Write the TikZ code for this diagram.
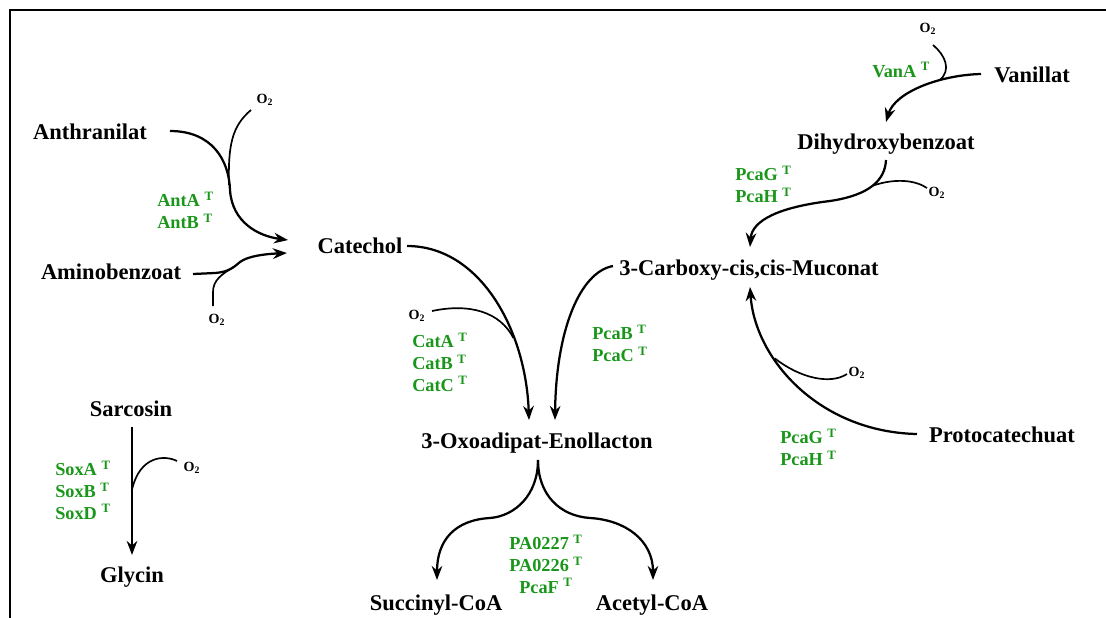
\documentclass[tikz,border=0pt]{standalone}
\usepackage{fontspec}
\setmainfont{Liberation Serif}
\usetikzlibrary{arrows.meta,calc}
\definecolor{enzgreen}{HTML}{1A961A}
\newcommand{\trn}{~\textsuperscript{T}}
\newcommand{\oxy}{O\textsubscript{2}}

\begin{document}
\begin{tikzpicture}[x=0.025cm,y=-0.025cm,
  met/.style={font=\fontsize{16}{18}\selectfont\bfseries,inner sep=0pt,text height=11pt,text depth=0pt},
  enz/.style={font=\fontsize{13}{15.6}\selectfont\bfseries,text=enzgreen,inner sep=0pt,align=left,anchor=west},
  oxlbl/.style={font=\fontsize{10}{12}\selectfont\bfseries,inner sep=0pt},
  rxn/.style={line width=1.6pt,-{Stealth[length=10pt,width=7.5pt]}},
  side/.style={line width=1.2pt}]
  \useasboundingbox (0,0) rectangle (1106,618);
  % frame
  \draw[line width=2.1pt] (10,618) -- (10,10) -- (1106,10);

  % metabolites
  \node[met] (anthr) at (90,132) {Anthranilat};
  \node[met] (amino) at (111,272) {Aminobenzoat};
  \node[met] (cat) at (360,246) {Catechol};
  \node[met] (van) at (1032,75) {Vanillat};
  \node[met] (dihyd) at (886,142) {Dihydroxybenzoat};
  \node[met] (muc) at (749,268) {3-Carboxy-cis,cis-Muconat};
  \node[met] (proto) at (1002,435) {Protocatechuat};
  \node[met] (enol) at (537,441) {3-Oxoadipat-Enollacton};
  \node[met] (succ) at (436,603) {Succinyl-CoA};
  \node[met] (acet) at (652,603) {Acetyl-CoA};
  \node[met] (sarc) at (131,409) {Sarcosin};
  \node[met] (glyc) at (132,575) {Glycin};

  % oxygen
  \node[oxlbl] (o2ant) at (265,100) {\oxy};
  \node[oxlbl] (o2ami) at (217,320) {\oxy};
  \node[oxlbl] (o2cat) at (417,316) {\oxy};
  \node[oxlbl] (o2van) at (928,29) {\oxy};
  \node[oxlbl] (o2dih) at (937,193) {\oxy};
  \node[oxlbl] (o2pro) at (857,373) {\oxy};
  \node[oxlbl] (o2sox) at (192,468) {\oxy};

  % enzymes
  \node[enz] (antab) at (157,210) {AntA\trn\\AntB\trn};
  \node[enz] (vana) at (872,70) {VanA\trn};
  \node[enz] (pcagh1) at (735,184) {PcaG\trn\\PcaH\trn};
  \node[enz] (pcabc) at (592,343) {PcaB\trn\\PcaC\trn};
  \node[enz] (pcagh2) at (780,447) {PcaG\trn\\PcaH\trn};
  \node[enz] (catabc) at (412,362) {CatA\trn\\CatB\trn\\CatC\trn};
  \node[enz,align=center,anchor=center] (pca) at (546,564) {PA0227\trn\\PA0226\trn\\PcaF\trn};
  \node[enz] (sox) at (55,490) {SoxA\trn\\SoxB\trn\\SoxD\trn};

  % Anthranilat -> Catechol
  \draw[rxn] ($(anthr)+(80,-1)$) .. controls (212,131) and (229,160) .. (230,190) coordinate (jant)
    .. controls (232,222) and (258,236) .. ($(cat)+(-72,-6)$);
  \draw[side] ($(o2ant)+(-14,10)$) .. controls (232,126) and (228,145) .. ($(jant)+(-1,-5)$);

  % Aminobenzoat -> Catechol
  \draw[rxn] ($(amino)+(82,2)$) -- (215,273) .. controls (228,272) and (233,268) .. coordinate[pos=0.7] (jami) (240,262)
    .. controls (248,256) and (265,254) .. ($(cat)+(-73,7)$);
  \draw[side] ($(o2ami)+(-4,-14)$) -- (213,292) .. controls (213,280) and (222,274) .. (jami);

  % Catechol -> Enollacton
  \draw[rxn] ($(cat)+(47,0)$) .. controls (480,246) and (526,330) .. coordinate[pos=0.68] (jcat) ($(enol)+(-8,-21)$);
  \draw[side] ($(o2cat)+(15,-5)$) .. controls (470,303) and (500,312) .. (jcat);

  % Muconat -> Enollacton
  \draw[rxn] ($(muc)+(-136,-2)$) .. controls (580,272) and (556,330) .. ($(enol)+(18,-21)$);

  % Vanillat -> Dihydroxybenzoat
  \draw[rxn] ($(van)+(-51,-1)$) .. controls (940,75) and (895,92) .. coordinate[pos=0.34] (jvan) ($(dihyd)+(0,-20)$);
  \draw[side] ($(o2van)+(5,16)$) .. controls (945,55) and (952,70) .. (jvan);

  % Dihydroxybenzoat -> Muconat
  \draw[rxn] ($(dihyd)+(0,18)$) .. controls (885,180) and (870,195) .. coordinate[pos=0.5] (jdih) (830,201)
    .. controls (780,207) and (752,220) .. ($(muc)+(1,-21)$);
  \draw[side] ($(o2dih)+(-10,-5)$) .. controls (915,180) and (895,178) .. (jdih);

  % Protocatechuat -> Muconat
  \draw[rxn] ($(proto)+(-85,-1)$) .. controls (820,432) and (755,360) .. coordinate[pos=0.66] (jpro) ($(muc)+(1,19)$);
  \draw[side] ($(o2pro)+(-10,1)$) .. controls (830,385) and (800,378) .. (jpro);

  % Sarcosin -> Glycin
  \draw[rxn] ($(sarc)+(1,18)$) -- coordinate[pos=0.49] (jsar) ($(glyc)+(0,-20)$);
  \draw[side] ($(o2sox)+(-15,-7)$) .. controls (165,455) and (140,455) .. (jsar);

  % Enollacton -> Succinyl-CoA / Acetyl-CoA
  \draw[rxn] ($(enol)+(1,19)$) .. controls (538,495) and (515,516) .. (490,518)
    .. controls (455,520) and (437,540) .. ($(succ)+(1,-23)$);
  \draw[rxn] ($(enol)+(1,19)$) .. controls (538,495) and (560,516) .. (590,518)
    .. controls (625,520) and (653,540) .. ($(acet)+(1,-23)$);
\end{tikzpicture}
\end{document}
